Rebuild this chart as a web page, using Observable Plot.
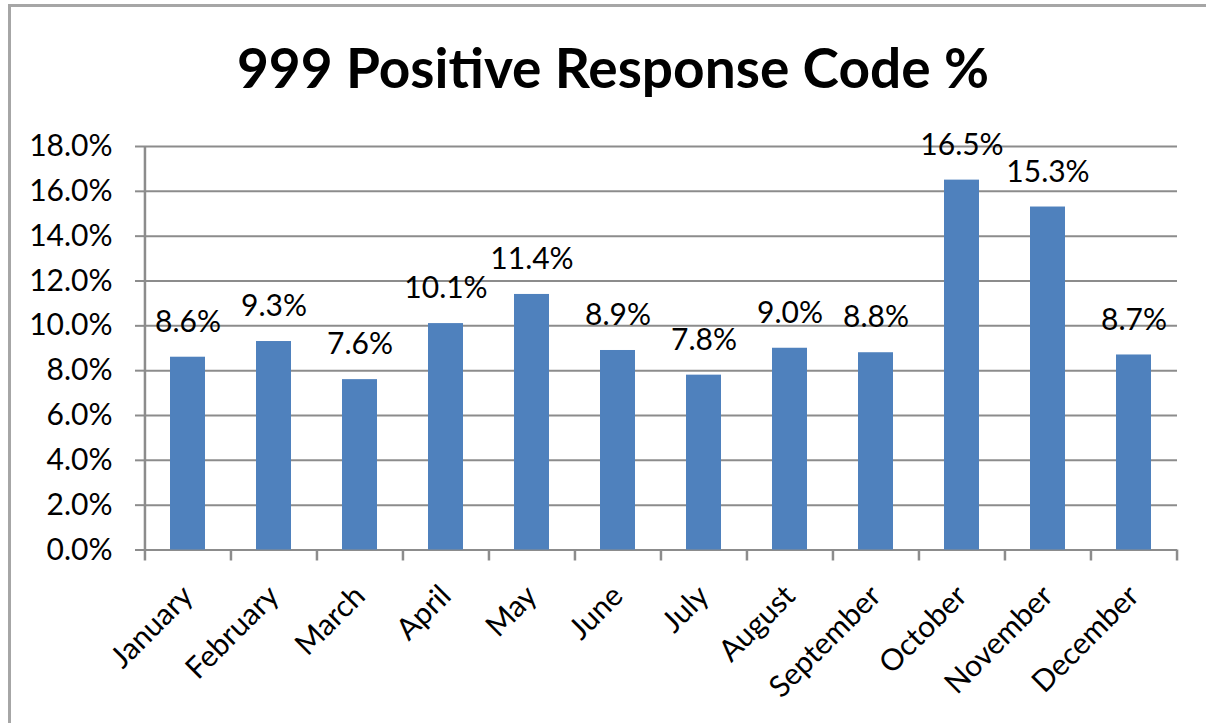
<!DOCTYPE html>
<html>
<head>
<meta charset="utf-8">
<script src="https://cdn.jsdelivr.net/npm/d3@7"></script>
<script src="https://cdn.jsdelivr.net/npm/@observablehq/plot@0.6"></script>
<style>
  html, body { margin: 0; padding: 0; background: #fff; }
  #wrap { position: relative; width: 1206px; height: 723px; overflow: hidden; }
  #frame { position: absolute; left: 8px; top: 4px; width: 1220px; height: 760px;
           border: 3px solid #a6a6a6; box-sizing: border-box; }
  #title { position: absolute; left: 10px; top: 40px; width: 1206px; text-align: center;
           font: bold 55px Lato, sans-serif; line-height: 1; color: #000; }
  #chart { position: absolute; left: 0; top: 100px; }
</style>
</head>
<body>
<div id="wrap">
  <div id="frame"></div>
  <div id="title">999 Positive Response Code %</div>
  <div id="chart"></div>
</div>
<script>
// Monthly share of 999 positive response codes
const months = ["January", "February", "March", "April", "May", "June",
                "July", "August", "September", "October", "November", "December"];
const rates = [0.086, 0.093, 0.076, 0.101, 0.114, 0.089,
               0.078, 0.090, 0.088, 0.165, 0.153, 0.087];
const yTicks = [0, 0.02, 0.04, 0.06, 0.08, 0.10, 0.12, 0.14, 0.16, 0.18];

const data = months.map((month, i) => ({month, rate: rates[i]}));

const W = 1206, H = 623;
const mLeft = 144, mRight = 29;
const step = (W - mLeft - mRight) / months.length; // width of one category slot
const axisColor = "#8c8c8c";
const fontSize = 30;

const chart = Plot.plot({
  width: W,
  height: H,
  marginLeft: mLeft,
  marginRight: mRight,
  marginTop: 46,
  marginBottom: 173.5,
  style: {fontFamily: "Lato, sans-serif", fontSize: `${fontSize}px`, color: "#000", background: "transparent"},
  x: {domain: months, paddingInner: 0.59, paddingOuter: 0.295, align: 0.5, label: null},
  y: {domain: [0, 0.18], label: null},
  marks: [
    Plot.gridY(yTicks, {stroke: axisColor, strokeWidth: 2, strokeOpacity: 1}),
    Plot.axisY(yTicks, {tickSize: 9, tickPadding: 23, stroke: axisColor, strokeWidth: 2,
                        tickFormat: d3.format(".1%"), fill: "#000", fontSize, label: null}),
    // vertical axis line on the left edge of the first slot
    Plot.ruleX([months[0]], {dx: -step / 2, y1: 0, y2: 0.18, stroke: axisColor, strokeWidth: 2.5}),
    Plot.barY(data, {x: "month", y: "rate", fill: "#4F81BD"}),
    Plot.text(data, {x: "month", y: "rate", text: d => d3.format(".1%")(d.rate),
                     dy: -35, fill: "#000", fontSize}),
    // category separators below the baseline
    Plot.axisX({tickSize: 11, text: null, dx: -step / 2, stroke: axisColor, strokeWidth: 2.5, label: null}),
    Plot.axisX([months[months.length - 1]], {tickSize: 11, text: null, dx: step / 2,
                stroke: axisColor, strokeWidth: 2.5, label: null}),
    // rotated month names
    Plot.axisX({tickSize: 0, tickPadding: 41, tickRotate: -45, dx: 0, fill: "#000",
                fontSize, label: null})
  ]
});

document.getElementById("chart").appendChild(chart);
</script>
</body>
</html>
